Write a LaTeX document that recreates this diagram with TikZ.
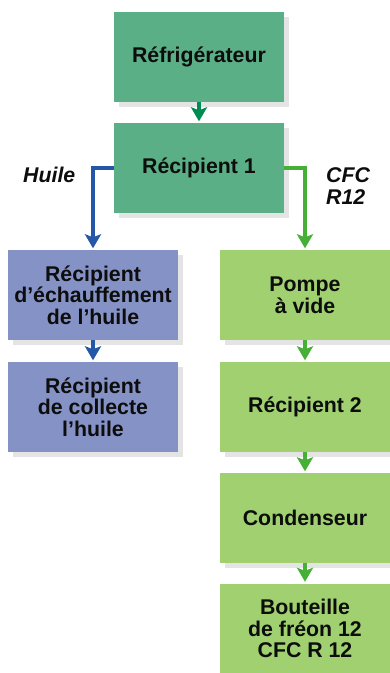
\documentclass[tikz,border=0pt]{standalone}
\usepackage{fontspec}
\setmainfont{Liberation Sans}
\usetikzlibrary{arrows.meta,shadows}
\definecolor{boxdark}{HTML}{5BAF87}
\definecolor{boxblue}{HTML}{8592C5}
\definecolor{boxlight}{HTML}{A0D070}
\definecolor{shadowgray}{HTML}{E4E4E4}
\definecolor{arrdark}{HTML}{008C50}
\definecolor{arrblue}{HTML}{2457A8}
\definecolor{arrgreen}{HTML}{45B035}
\tikzset{
  stage/.style={rectangle, minimum width=170pt, minimum height=90pt, inner sep=0pt,
    align=center, text=black!95,
    font=\fontsize{21.3}{21.7}\selectfont\bfseries,
    drop shadow={shadow xshift=5pt, shadow yshift=-5pt, fill=shadowgray, opacity=1}},
  darkstage/.style={stage, fill=boxdark},
  bluestage/.style={stage, fill=boxblue},
  lightstage/.style={stage, fill=boxlight},
  flow/.style={line width=3.6pt, shorten >=1.5pt,
    -{Stealth[length=14pt, width=16pt, inset=3pt]}},
  flowlabel/.style={inner sep=0pt, align=left, text=black!95,
    font=\fontsize{21.3}{22.5}\selectfont\bfseries\itshape}
}
\begin{document}
\begin{tikzpicture}[x=1pt, y=-1pt]
\useasboundingbox (0,0) rectangle (390,673);
\clip (0,0) rectangle (390,673);
\fill[white] (0,0) rectangle (390,673);

% upper stages
\node[darkstage] (fridge) at (199,57) {Réfrigérateur};
\node[darkstage] (rec1) at (199,168) {Récipient 1};

% oil branch
\node[bluestage] (heat) at (93,295) {Récipient\\d’échauffement\\de l’huile};
\node[bluestage] (collect) at (93,407) {Récipient\\de collecte\\l’huile};

% refrigerant branch
\node[lightstage] (pump) at (305,295) {Pompe\\à vide};
\node[lightstage] (rec2) at (305,407) {Récipient 2};
\node[lightstage] (cond) at (305,518) {Condenseur};
\node[lightstage] (bottle) at (305,628.5) {Bouteille\\de fréon 12\\CFC R 12};

% connectors
\draw[flow, arrdark] (fridge.south) -- (rec1.north);
\draw[flow, arrblue, line join=miter] (rec1.west) -| (heat.north);
\draw[flow, arrgreen, line join=miter] (rec1.east) -| (pump.north);
\draw[flow, arrblue] (heat.south) -- (collect.north);
\draw[flow, arrgreen] (pump.south) -- (rec2.north);
\draw[flow, arrgreen] (rec2.south) -- (cond.north);
\draw[flow, arrgreen] (cond.south) -- (bottle.north);

% branch labels
\node[flowlabel, anchor=north west] (oil) at (23,167) {Huile};
\node[flowlabel, anchor=north west] (cfc) at (326,167) {CFC\\R12};
\end{tikzpicture}
\end{document}
